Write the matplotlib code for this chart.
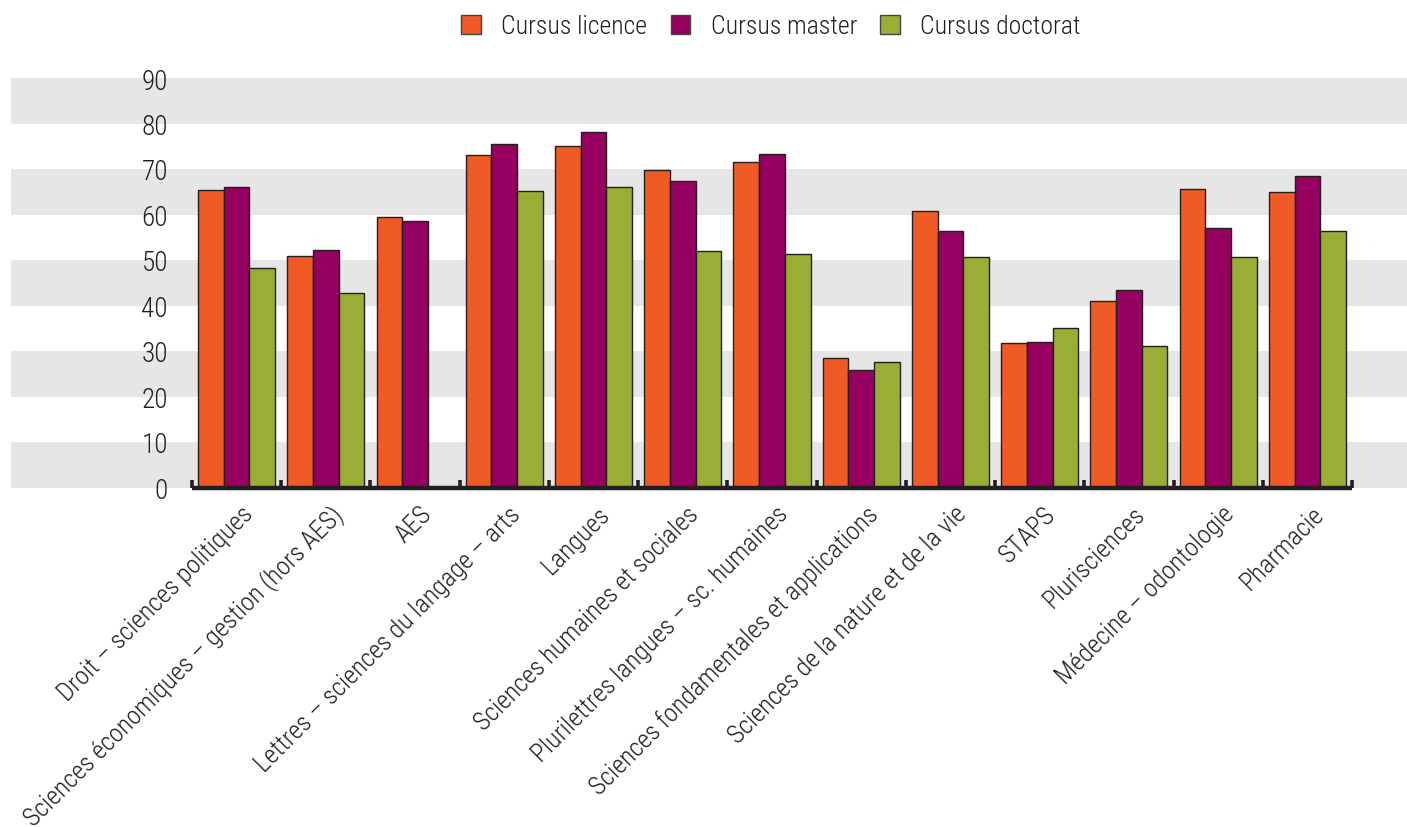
import numpy as np
import matplotlib
matplotlib.use("Agg")
import matplotlib.pyplot as plt
from matplotlib.patches import Patch
from matplotlib.transforms import ScaledTranslation

categories = [
    "Droit – sciences politiques",
    "Sciences économiques – gestion (hors AES)",
    "AES",
    "Lettres – sciences du langage – arts",
    "Langues",
    "Sciences humaines et sociales",
    "Plurilettres langues – sc. humaines",
    "Sciences fondamentales et applications",
    "Sciences de la nature et de la vie",
    "STAPS",
    "Plurisciences",
    "Médecine – odontologie",
    "Pharmacie",
]
licence = [65.4, 50.8, 59.5, 73.1, 75.1, 69.7, 71.5, 28.5, 60.7, 31.7, 40.9, 65.6, 65.0]
master = [66.0, 52.3, 58.5, 75.5, 78.1, 67.4, 73.2, 25.8, 56.4, 31.9, 43.4, 57.0, 68.4]
doctorat = [48.2, 42.8, np.nan, 65.1, 66.1, 52.0, 51.3, 27.5, 50.7, 35.1, 31.0, 50.6, 56.3]
series_names = ["Cursus licence", "Cursus master", "Cursus doctorat"]
yticks = list(range(0, 91, 10))

colors = ["#F05A24", "#960060", "#9AAE35"]
edge = "#231F20"
band = "#E6E6E6"
txt = "#231F20"

FONT = ["Roboto Condensed", "Liberation Sans Narrow", "DejaVu Sans Condensed", "DejaVu Sans"]
plt.rcParams["font.family"] = FONT
plt.rcParams["font.weight"] = "light"
FS = 18.5

W, H = 1407, 828
fig = plt.figure(figsize=(W / 100, H / 100), dpi=100)
ax = fig.add_axes([11 / W, 1 - 488.5 / H, 1 - 11 / W, (488.5 - 79) / H])

n = len(categories)
x = np.arange(n)
px_per_unit = (1352 - 192) / n
ax.set_xlim(-0.5 - (192 - 11) / px_per_unit, n - 0.5 + (W - 1352) / px_per_unit)
ax.set_ylim(0, 90)

for lo in range(0, 90, 20):
    ax.axhspan(lo, lo + 10, color=band, zorder=0, lw=0)

bw = 0.288
for k, (vals, c) in enumerate(zip([licence, master, doctorat], colors)):
    ax.bar(x + (k - 1) * bw, vals, width=bw, color=c, edgecolor=edge, linewidth=1.0, zorder=2)

# baseline axis with boundary ticks
ax.hlines(0, -0.5, n - 0.5, color=edge, lw=3.2, zorder=4, clip_on=False)
bounds = np.arange(n + 1) - 0.5
ax.vlines(bounds, 0, 1.6, color=edge, lw=2.6, zorder=4)

for s in ax.spines.values():
    s.set_visible(False)

ax.set_yticks(yticks)
ax.set_yticklabels([str(v) for v in yticks], fontsize=FS + 1, color=txt)
ax.tick_params(axis="y", length=0, pad=-(168 - 11) * 72 / 100)

ax.set_xticks(x)
ax.set_xticklabels(categories, rotation=45, ha="right", rotation_mode="anchor",
                   fontsize=FS, color=txt)
ax.tick_params(axis="x", length=0, pad=10)
off = ScaledTranslation(4 / 100, 0, fig.dpi_scale_trans)
for lab in ax.get_xticklabels():
    lab.set_transform(lab.get_transform() + off)

handles = [Patch(facecolor=c, edgecolor="#444444", lw=1) for c in colors]
fig.legend(handles, series_names, loc="center", bbox_to_anchor=(771 / W, 1 - 27 / H),
           ncol=3, frameon=False, fontsize=FS, handlelength=0.76, handleheight=0.76,
           handletextpad=0.8, columnspacing=0.9, labelcolor=txt)

fig.savefig("out.png", dpi=100)
